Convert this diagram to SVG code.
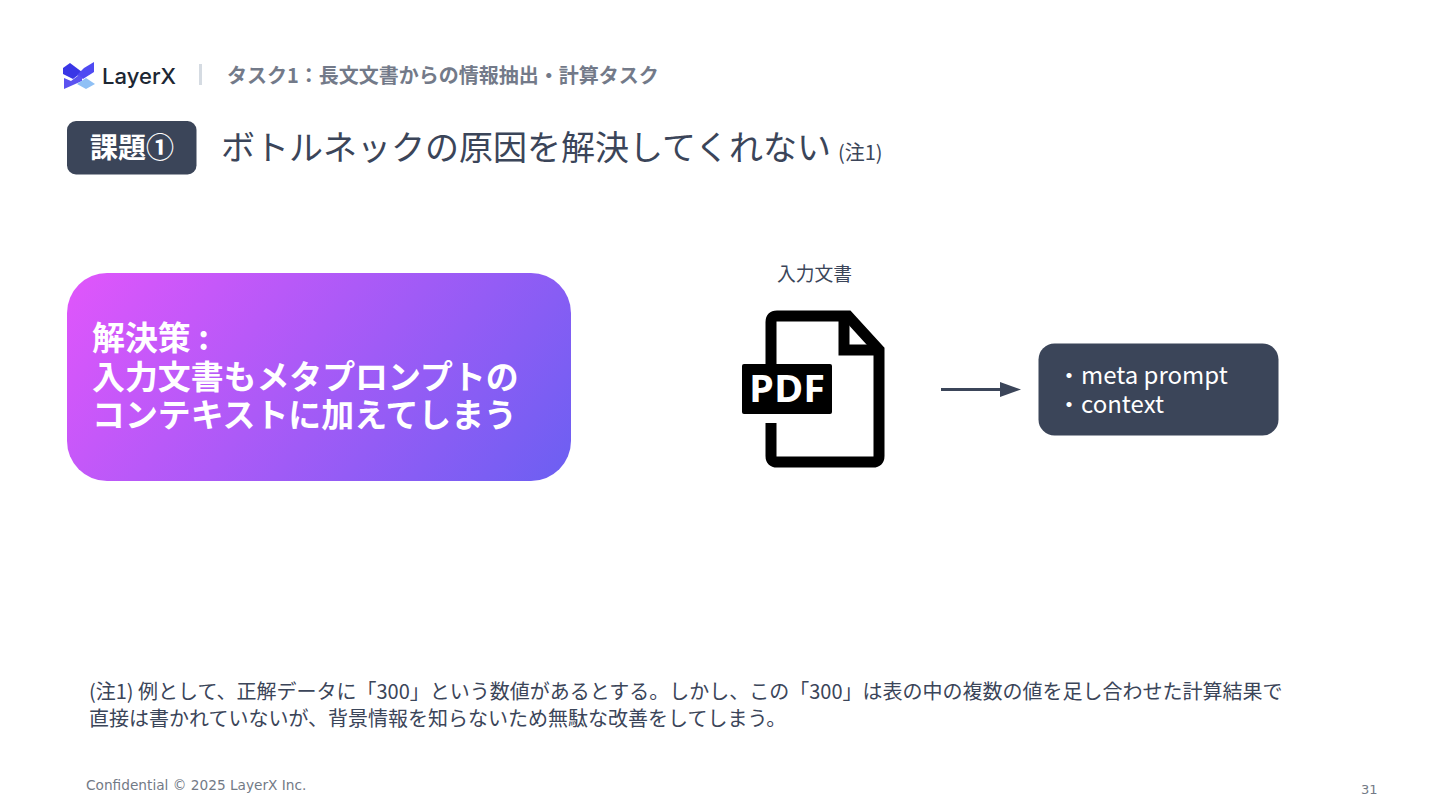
<svg xmlns="http://www.w3.org/2000/svg" width="1440" height="810" viewBox="0 0 1440 810">
<style>
text{font-family:"Noto Sans CJK JP","Noto Sans",sans-serif;}
.d{fill:#3b4559}
.w{fill:#fff}
.b{font-weight:700}
.f{font-family:"DejaVu Sans",Verdana,sans-serif;fill:#737a86}
</style>
<defs>
<linearGradient id="g" gradientUnits="userSpaceOnUse" x1="125" y1="225" x2="513" y2="529">
<stop offset="0" stop-color="#dd56fb"/><stop offset="1" stop-color="#6f5ff2"/>
</linearGradient>
</defs>
<rect width="1440" height="810" fill="#fff"/>
<g id="logo">
<path d="M63 68L70 63L82 72L73 79L63 74Z" fill="#3a36e6"/>
<path d="M94 62L94 72L83 79L77 75L84 68Z" fill="#4f4af2"/>
<path d="M64 78L71 81L79 75L82 78L82 81L64 89Z" fill="#5b52f0"/>
<path d="M86 78L95 84L86 89L77 84Z" fill="#8fc0f5"/>
<text x="102" y="84" font-size="21.500" textLength="74" lengthAdjust="spacingAndGlyphs" style="font-family:Inter,'Noto Sans',sans-serif" font-weight="500" fill="#1d2733">LayerX</text>
</g>
<rect x="199" y="64" width="3" height="21" fill="#d5dbe2"/>
<text x="227" y="83" font-size="20" class="b" fill="#737a89">タスク1：長文文書からの情報抽出・計算タスク</text>
<g id="badge">
<rect x="67" y="121" width="129.500" height="53.500" rx="9" class="d"/>
<text x="90" y="158" font-size="28" class="b w">課題①</text>
</g>
<text x="221" y="160" font-size="34" class="d">ボトルネックの原因を解決してくれない</text>
<text x="838" y="160" font-size="20" class="d">(注1)</text>
<g id="solution">
<rect x="67" y="273" width="504" height="208" rx="40" fill="url(#g)"/>
<text font-size="32.900" class="b w"><tspan x="92" y="350">解決策 :</tspan><tspan x="92" y="388.500">入力文書もメタプロンプトの</tspan><tspan x="92" y="427">コンテキストに加えてしまう</tspan></text>
</g>
<g id="pdf">
<text x="777" y="281" font-size="18.800" class="d">入力文書</text>
<path d="M771 366V322Q771 316 777 316H848L879 350V456Q879 462 873 462H777Q771 462 771 456V423" fill="none" stroke="#000" stroke-width="11"/>
<path d="M844 316V350H879" fill="none" stroke="#000" stroke-width="11"/>
<rect x="742" y="364" width="90" height="50" rx="2" fill="#000"/>
<text x="749" y="402" font-size="37" fill="#fff" font-weight="700" textLength="76" lengthAdjust="spacingAndGlyphs" style="font-family:'Open Sans',sans-serif">PDF</text>
</g>
<g id="connectors">
<path d="M941 389.500H1005" stroke="#3b4559" stroke-width="3" fill="none"/>
<path d="M1000 382L1021 389.500L1000 397Z" fill="#3b4559"/>
</g>
<g id="box">
<rect x="1038.500" y="343.500" width="240" height="92" rx="16" class="d"/>
<text font-size="24" class="w"><tspan x="1057" y="384">・meta prompt</tspan><tspan x="1057" y="413">・context</tspan></text>
</g>
<text font-size="20" class="d"><tspan x="89" y="699">(注1) 例として、正解データに「300」という数値があるとする。しかし、この「300」は表の中の複数の値を足し合わせた計算結果で</tspan><tspan x="89" y="726">直接は書かれていないが、背景情報を知らないため無駄な改善をしてしまう。</tspan></text>
<text x="86" y="790" class="f" style="font-size:13.700px">Confidential © 2025 LayerX Inc.</text>
<text x="1361" y="794" class="f" style="font-size:13px">31</text>
</svg>
